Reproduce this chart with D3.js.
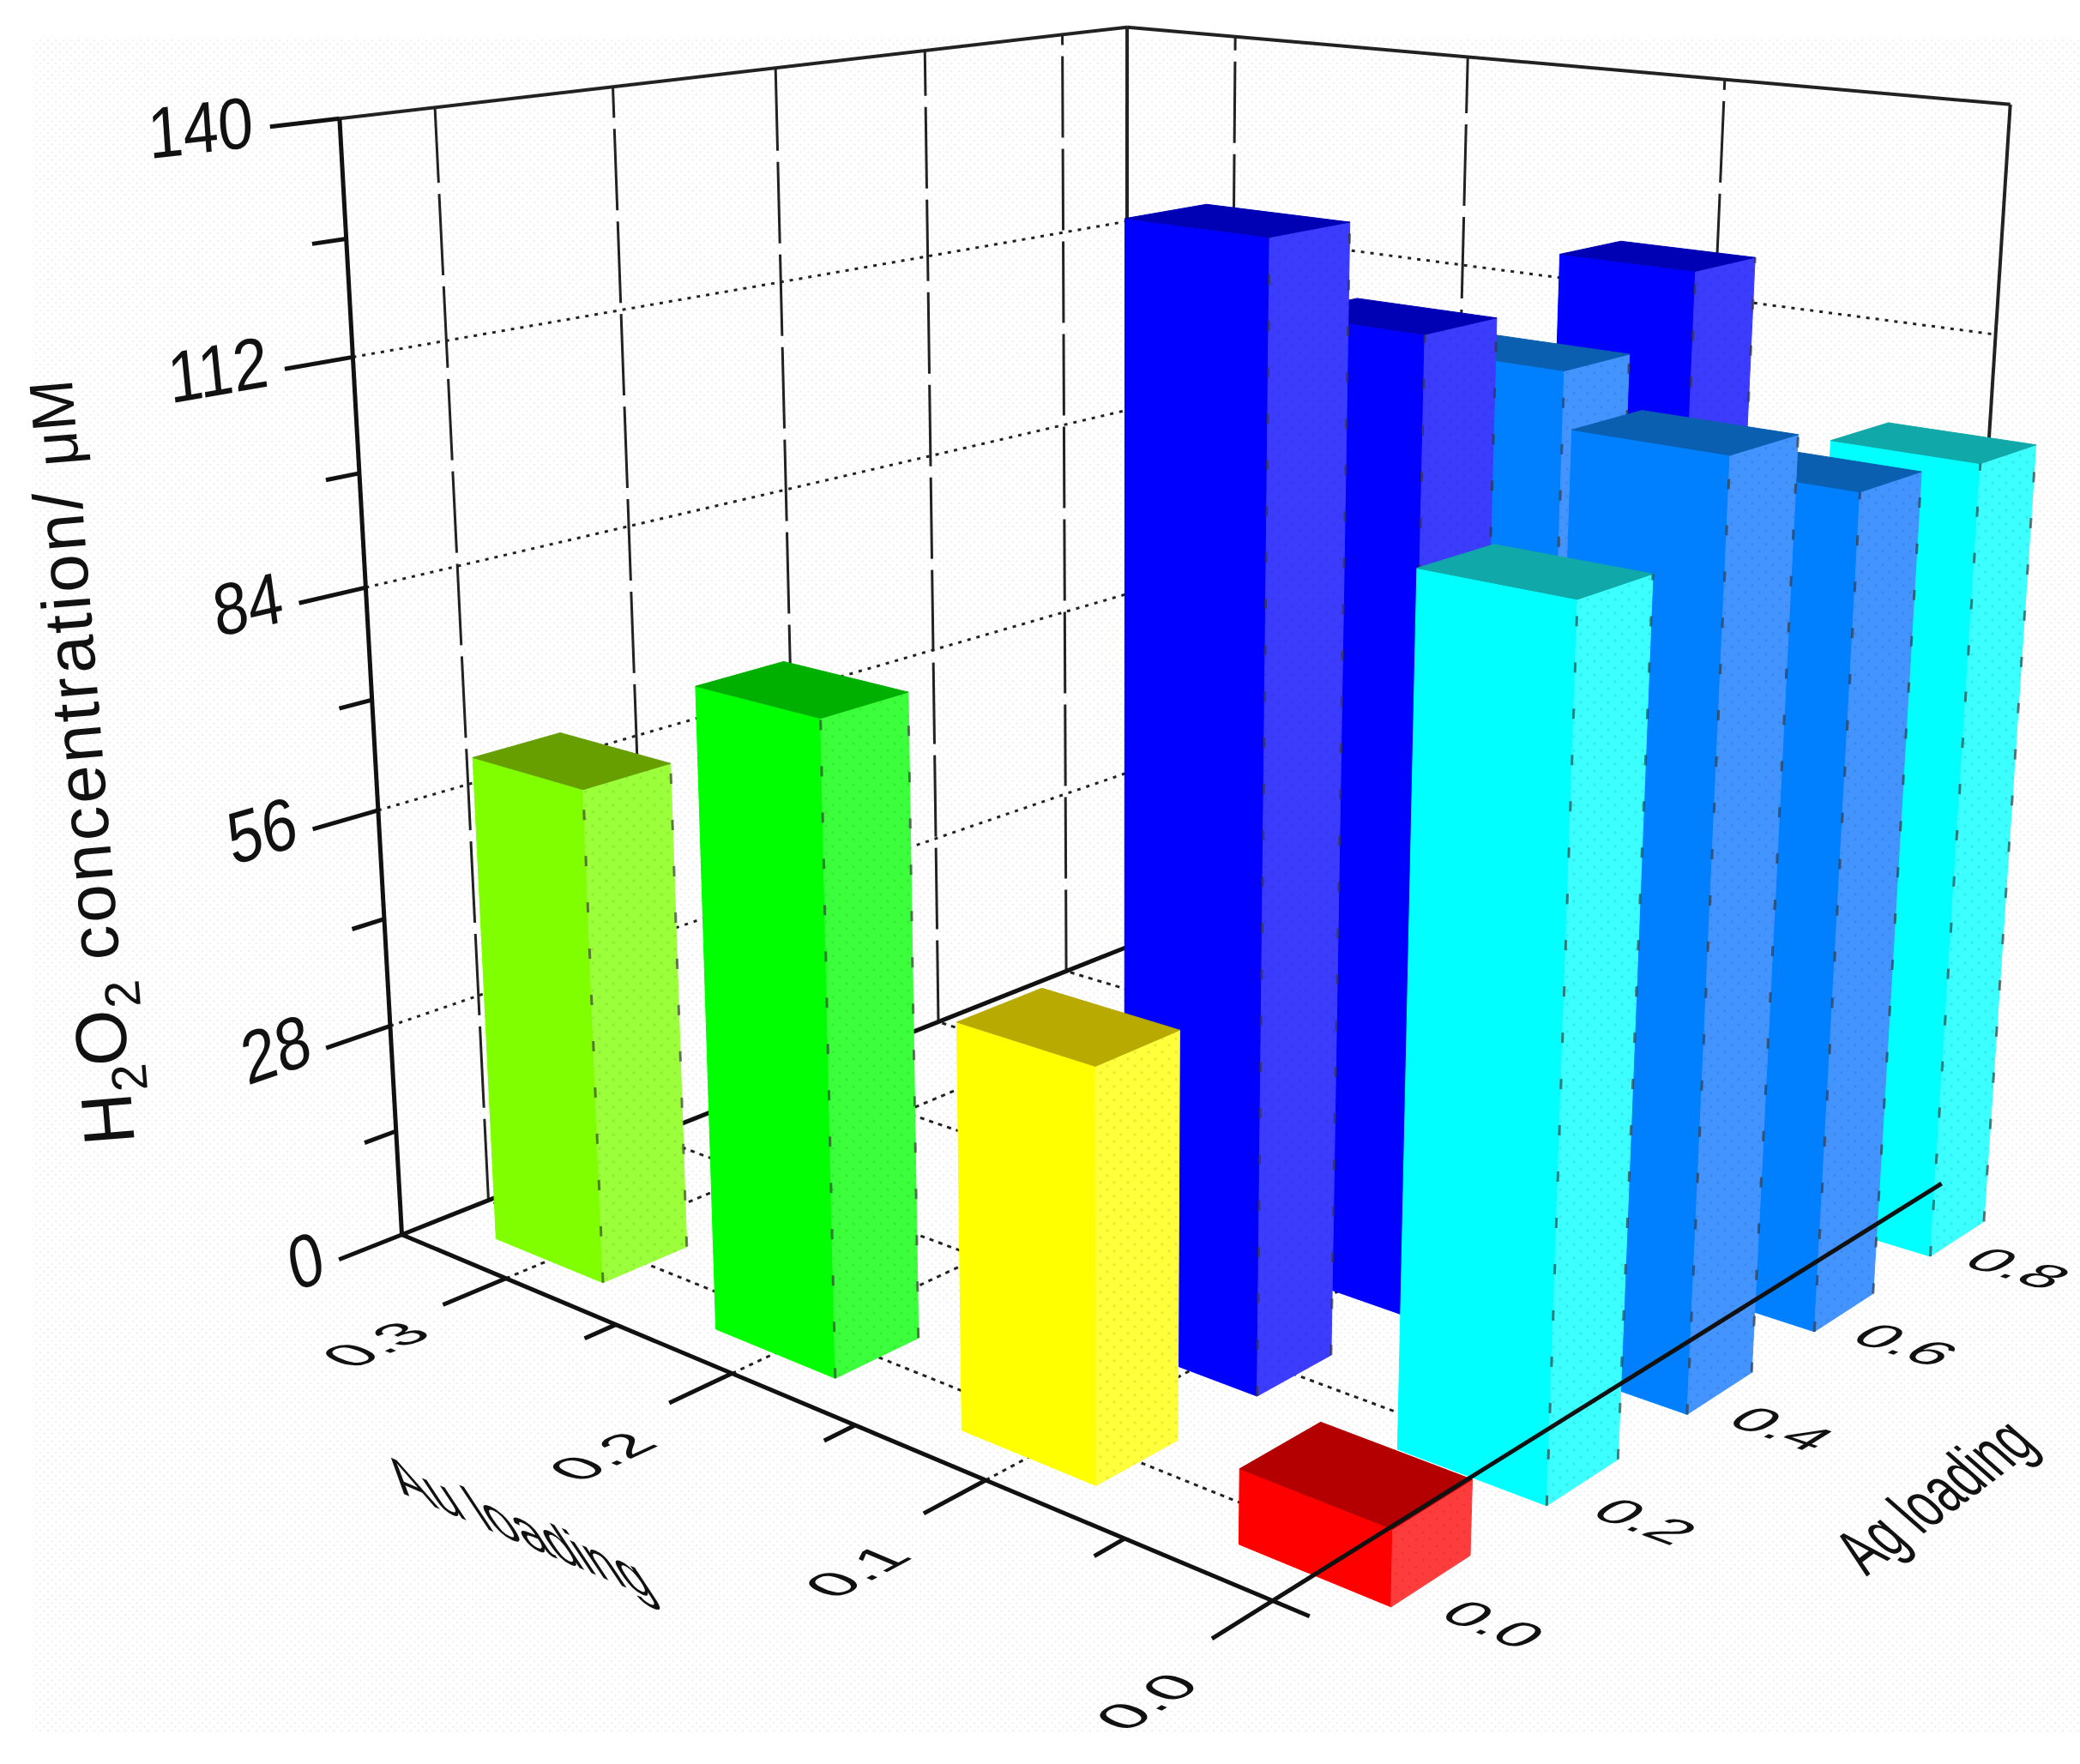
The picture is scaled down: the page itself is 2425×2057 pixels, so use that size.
<!DOCTYPE html>
<html>
<head>
    <title>H2O2 concentration 3D bars</title>
    <script src="https://d3js.org/d3.v7.min.js"></script>
    <style>
        html, body { margin: 0; background: #fff; }
        text { font-family: "Liberation Sans", Arial, sans-serif; fill: #111; }
    </style>
</head>
<body>
    <div id="chart"></div>
    <script>
        const agLoading = [0, 0.2, 0.4, 0.6, 0.8];
        const auLoading = [0, 0.1, 0.2, 0.3];
        const zTicks = [0, 28, 56, 84, 112, 140];
        const zMinor = [14, 42, 70, 98, 126];
        const auMinor = [0.05, 0.15, 0.25];
        const auValues0 = [8.8, 100.8, 111, 102.2, 100.8];
        const auValues1 = [48.8, 133.3, 119.1, 110.9, 119.2];
        const auValues2 = [79.4];
        const auValues3 = [63.1];

        const width = 2425, height = 2057;
        const ag = d3.scaleLinear().domain([-0.1, 0.9]).range([0, 1]);
        const au = d3.scaleLinear().domain([0, 0.35]).range([0, 1]);
        const zs = d3.scaleLinear().domain([0, 140]).range([0, 1]);

        // camera fit: box corners (u, v, w) and where they land on the page
        const corners = [
            [0, 0, 0, 1484, 1868], [1, 0, 0, 2265, 1379], [0, 1, 0, 470, 1438], [1, 1, 0, 1311, 1106],
            [0, 1, 1, 394, 139], [1, 1, 1, 1317, 31], [1, 0, 1, 2342, 122]
        ];
        function fitCamera(pts) {
            const rows = [], rhs = [];
            pts.forEach(([u, v, w, X, Y]) => {
                const x = X / 1000, y = Y / 1000;
                rows.push([u, v, w, 1, 0, 0, 0, 0, -x * u, -x * v, -x * w]); rhs.push(x);
                rows.push([0, 0, 0, 0, u, v, w, 1, -y * u, -y * v, -y * w]); rhs.push(y);
            });
            const n = 11;
            const m = d3.range(n).map(i => d3.range(n + 1).map(j =>
                d3.sum(rows, (r, k) => r[i] * (j < n ? r[j] : rhs[k]))));
            for (let i = 0; i < n; i++) {
                let p = i;
                for (let r = i + 1; r < n; r++) if (Math.abs(m[r][i]) > Math.abs(m[p][i])) p = r;
                [m[i], m[p]] = [m[p], m[i]];
                for (let r = 0; r < n; r++) {
                    if (r === i) continue;
                    const f = m[r][i] / m[i][i];
                    for (let c = i; c <= n; c++) m[r][c] -= f * m[i][c];
                }
            }
            return m.map((r, i) => r[n] / r[i]);
        }
        const cam = fitCamera(corners);
        function project(a, b, c) {
            const u = ag(a), v = au(b), w = zs(c);
            const d = cam[8] * u + cam[9] * v + cam[10] * w + 1;
            return [1000 * (cam[0] * u + cam[1] * v + cam[2] * w + cam[3]) / d,
                    1000 * (cam[4] * u + cam[5] * v + cam[6] * w + cam[7]) / d];
        }

        const line = d3.line();
        const svg = d3.select("#chart").append("svg").attr("width", width).attr("height", height)
            .style("display", "block");

        const defs = svg.append("defs");
        const pat = defs.append("pattern").attr("id", "stipple").attr("width", 9).attr("height", 9)
            .attr("patternUnits", "userSpaceOnUse");
        pat.append("circle").attr("cx", 2).attr("cy", 2).attr("r", 1.3).attr("fill", "#eef2ee");
        pat.append("circle").attr("cx", 6.5).attr("cy", 6.5).attr("r", 1.3).attr("fill", "#eef2ee");
        const dots = defs.append("pattern").attr("id", "dots").attr("width", 16).attr("height", 16)
            .attr("patternUnits", "userSpaceOnUse");
        dots.append("circle").attr("cx", 3).attr("cy", 3).attr("r", 1.8).attr("fill", "rgba(0,0,0,0.08)");
        dots.append("circle").attr("cx", 11).attr("cy", 11).attr("r", 1.8).attr("fill", "rgba(0,0,0,0.08)");
        svg.append("rect").attr("x", 38).attr("y", 45).attr("width", 2387).attr("height", 1975).attr("fill", "url(#stipple)");

        function seg(g, p, q, color, w, dash) {
            return g.append("path").attr("d", line([p, q])).attr("fill", "none")
                .attr("stroke", color).attr("stroke-width", w).attr("stroke-dasharray", dash || null);
        }

        const back = svg.append("g");
        const [agLo, agHi] = ag.domain(), [auLo, auHi] = au.domain(), zHi = zs.domain()[1];

        agLoading.forEach(a => seg(back, project(a, auHi, 0), project(a, auHi, zHi), "#222", 3, "95 13"));
        auLoading.slice(1).forEach(b => seg(back, project(agHi, b, 0), project(agHi, b, zHi), "#222", 3, "95 13"));
        zTicks.slice(1, -1).forEach(z => {
            seg(back, project(agLo, auHi, z), project(agHi, auHi, z), "#222", 3, "4 7");
            seg(back, project(agHi, auHi, z), project(agHi, auLo, z), "#222", 3, "4 7");
        });
        agLoading.forEach(a => seg(back, project(a, auLo, 0), project(a, auHi, 0), "#222", 3, "5 6"));
        auLoading.slice(1).forEach(b => seg(back, project(agLo, b, 0), project(agHi, b, 0), "#222", 3, "5 6"));

        seg(back, project(agLo, auHi, zHi), project(agHi, auHi, zHi), "#222", 4);
        seg(back, project(agHi, auHi, zHi), project(agHi, auLo, zHi), "#222", 4);
        seg(back, project(agHi, auHi, 0), project(agHi, auHi, zHi), "#222", 4);
        seg(back, project(agHi, auLo, 0), project(agHi, auLo, zHi), "#222", 4);
        seg(back, project(agLo, auHi, 0), project(agHi, auHi, 0), "#111", 5);
        seg(back, project(agHi, auHi, 0), project(agHi, auLo, 0), "#111", 3);

        // value colour bands, low to high
        const faceColor = d3.scaleThreshold().domain([25, 55, 70, 90, 101.5, 115])
            .range(["red", "yellow", "yellowgreen", "green", "cyan", "azure", "blue"]);
        const shades = {
            red: ["#ff0000", "#ff3c3c", "#b40000"], yellow: ["#ffff00", "#ffff3c", "#b8aa00"],
            yellowgreen: ["#80ff00", "#9cff3c", "#689f00"], green: ["#00ff00", "#3cff3c", "#00b000"],
            cyan: ["#00ffff", "#3cffff", "#10a8a8"], azure: ["#0080ff", "#4494ff", "#0a5fb0"],
            blue: ["#0000ff", "#3c3cff", "#0000b4"]
        };

        const bars = [];
        [auValues0, auValues1, auValues2, auValues3].forEach((vals, i) => vals.forEach((v, j) => {
            bars.push({ a: agLoading[j], b: auLoading[i], v: v });
        }));
        bars.sort((p, q) => (q.a + q.b * 2) - (p.a + p.b * 2));
        const agLeft = 0.051, agRight = 0.048, halfAu = 0.025;
        const barG = svg.append("g");
        bars.forEach(d => {
            const c = shades[faceColor(d.v)];
            const l = [d.a - agLeft, d.b + halfAu], f = [d.a - agLeft, d.b - halfAu],
                  r = [d.a + agRight, d.b - halfAu], k = [d.a + agRight, d.b + halfAu];
            const g = barG.append("g");
            const face = (pts, fill) => g.append("path").attr("d", line(pts) + "Z")
                .attr("fill", fill).attr("stroke", fill === "url(#dots)" ? "none" : fill).attr("stroke-width", 1);
            const side = [project(...f, 0), project(...r, 0), project(...r, d.v), project(...f, d.v)];
            face([project(...l, 0), project(...f, 0), project(...f, d.v), project(...l, d.v)], c[0]);
            face(side, c[1]);
            face(side, "url(#dots)");
            face([project(...l, d.v), project(...f, d.v), project(...r, d.v), project(...k, d.v)], c[2]);
            if (d.v > 55) {
                seg(g, project(...f, 0), project(...f, d.v), "#333", 3, "12 42").attr("opacity", 0.65);
                seg(g, project(...r, 0), project(...r, d.v), "#333", 3, "12 42").attr("opacity", 0.65);
            }
        });

        const front = svg.append("g");
        seg(front, project(agLo, auHi, 0), project(agLo, auHi, zHi), "#111", 5);
        seg(front, project(agLo, -0.012, 0), project(agLo, auHi, 0), "#111", 5);
        seg(front, project(agLo, auLo, 0), project(agHi, auLo, 0), "#111", 5);
        const tickOut = agLo - 0.07, tickMinor = agLo - 0.035;
        auLoading.forEach(b => seg(front, project(agLo, b, 0), project(tickOut, b, 0), "#111", 5));
        auMinor.forEach(b => seg(front, project(agLo, b, 0), project(tickMinor, b, 0), "#111", 5));
        zTicks.forEach(z => seg(front, project(agLo, auHi, z), project(tickOut, auHi, z), "#111", 5));
        zMinor.forEach(z => seg(front, project(agLo, auHi, z), project(tickMinor, auHi, z), "#111", 5));

        function unit(p, q) {
            const dx = q[0] - p[0], dy = q[1] - p[1], n = Math.hypot(dx, dy);
            return [dx / n, dy / n];
        }
        function skewText(label, at, ex, ey, size, sx, sy, anchor) {
            svg.append("text").text(label).attr("text-anchor", anchor || "middle").attr("dy", "0.36em")
                .attr("font-size", size)
                .attr("transform", "matrix(" + [ex[0] * sx, ex[1] * sx, ey[0] * sy, ey[1] * sy, at[0], at[1]].map(n => n.toFixed(4)).join(",") + ")");
        }

        zTicks.forEach(z => {
            const p = project(tickOut, auHi, z);
            const ex = unit(p, project(agLo, auHi, z));
            const w = String(z).length * 40;
            skewText(String(z), [p[0] - 20, p[1] + ex[1] * w / 2], ex, [-ex[1] * 0.6, 1], 84, 0.88, 1, "end");
        });

        const auLabelAg = agLo - 0.145, agLabelAu = -0.05;
        auLoading.forEach(b => {
            const p = project(auLabelAg, b, 0);
            skewText(b.toFixed(1), [p[0] + 2, p[1] + (b === 0.3 ? 12 : 24)], unit(project(agLo, b, 0), project(agHi, b, 0)), unit(project(agLo, b + 0.05, 0), project(agLo, b, 0)), 76, 1, 0.85);
        });
        agLoading.forEach(a => {
            const p = project(a - 0.022, agLabelAu, 0);
            skewText(a.toFixed(1), p, unit(project(a, 0.05, 0), project(a, 0, 0)), unit(project(a + 0.1, 0, 0), project(a, 0, 0)), 76, 1, 0.78);
        });
        skewText("Au loading", [603, 1779], unit(project(agLo, 0.3, 0), project(agLo, 0.1, 0)), [0.55, 0.83], 70, 0.98, 1.25);
        skewText("Ag loading", [2254, 1743], [0.8, -0.6], [0.75, 0.66], 70, 0.76, 1.2);

        const title = svg.append("text").attr("transform", "translate(157,1333) rotate(-94.7)").attr("font-size", 84);
        title.append("tspan").text("H");
        title.append("tspan").text("2").attr("font-size", 58).attr("dy", 20);
        title.append("tspan").text("O").attr("dy", -20);
        title.append("tspan").text("2").attr("font-size", 58).attr("dy", 20);
        title.append("tspan").text(" concentration/ ").attr("dy", -20).attr("font-size", 80).attr("letter-spacing", 3.5);
        title.append("tspan").text("μM").attr("font-size", 72);
    </script>
</body>
</html>
